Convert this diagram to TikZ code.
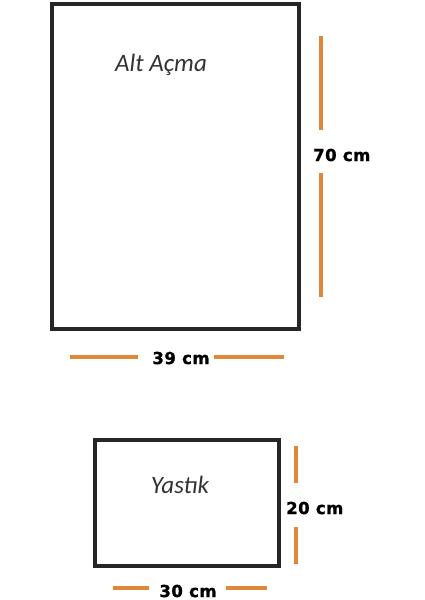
\documentclass[tikz,border=0pt]{standalone}
\usepackage{fontspec}
\setmainfont{Liberation Sans}
\newfontfamily\labfont{Carlito}
\newfontfamily\dimfont[LetterSpace=3,FakeBold=1.3]{DejaVu Sans Bold}
\begin{document}
\begin{tikzpicture}[x=1pt,y=-1pt,
  box/.style={draw=black!85,line width=3.4pt},
  dimline/.style={draw=dimorange,line width=3.2pt},
  dimtext/.style={font=\dimfont\fontsize{16.5}{18}\selectfont,inner sep=0pt},
  labtext/.style={font=\labfont\itshape\fontsize{25}{28}\selectfont,text=black!80,inner sep=0pt}]
\definecolor{dimorange}{HTML}{E0873A}
\useasboundingbox (0,0) rectangle (424,600);
% big rectangle
\draw[box] (52,4) rectangle (299,329);
\node[labtext] (alt) at (161,65) {Alt Açma};
% vertical dim
\coordinate (v1a) at (321,36); \coordinate (v1b) at (321,130);
\coordinate (v1c) at (321,173); \coordinate (v1d) at (321,297);
\draw[dimline] (v1a) -- (v1b);
\draw[dimline] (v1c) -- (v1d);
\node[dimtext,anchor=west] (h70) at (313,155) {70 cm};
% horizontal dim
\coordinate (h1a) at (70,357); \coordinate (h1b) at (138,357);
\coordinate (h1c) at (214,357); \coordinate (h1d) at (284,357);
\draw[dimline] (h1a) -- (h1b);
\draw[dimline] (h1c) -- (h1d);
\node[dimtext] (w39) at (181,358) {39 cm};
% small rectangle
\draw[box] (95,440) rectangle (279,566);
\node[labtext] (yas) at (180,485) {Yastık};
\coordinate (v2a) at (296,446); \coordinate (v2b) at (296,483);
\coordinate (v2c) at (296,527); \coordinate (v2d) at (296,564);
\draw[dimline] (v2a) -- (v2b);
\draw[dimline] (v2c) -- (v2d);
\node[dimtext,anchor=west] (h20) at (286,508) {20 cm};
\coordinate (h2a) at (113,588); \coordinate (h2b) at (149,588);
\coordinate (h2c) at (226,588); \coordinate (h2d) at (267,588);
\draw[dimline] (h2a) -- (h2b);
\draw[dimline] (h2c) -- (h2d);
\node[dimtext] (w30) at (188,591) {30 cm};
\end{tikzpicture}
\end{document}
